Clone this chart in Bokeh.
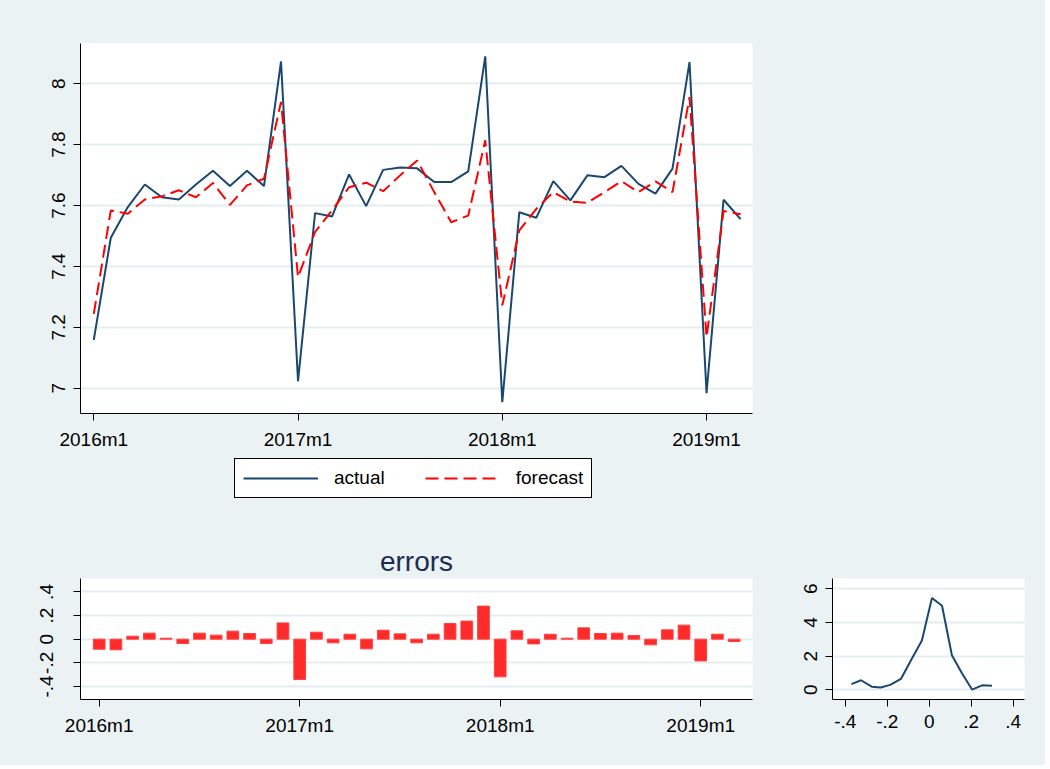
from bokeh.plotting import figure
from bokeh.layouts import column, row
from bokeh.models import FixedTicker, Legend, LegendItem, Range1d
from bokeh.embed import file_html
from bokeh.resources import INLINE

# ---------------- data ----------------
months = list(range(39))  # 2016m1 .. 2019m3
actual = [7.159, 7.494, 7.595, 7.669, 7.627, 7.620, 7.669, 7.714, 7.664, 7.714, 7.664, 8.073,
          7.023, 7.575, 7.564, 7.702, 7.598, 7.717, 7.725, 7.722, 7.677, 7.677, 7.712, 8.090,
          6.954, 7.578, 7.560, 7.680, 7.617, 7.699, 7.693, 7.730, 7.671, 7.639, 7.721, 8.071,
          6.984, 7.619, 7.555]
forecast = [7.244, 7.584, 7.573, 7.620, 7.630, 7.650, 7.627, 7.674, 7.602, 7.666, 7.688, 7.940,
            7.365, 7.513, 7.584, 7.660, 7.675, 7.647, 7.699, 7.748, 7.644, 7.545, 7.567, 7.814,
            7.272, 7.518, 7.589, 7.644, 7.613, 7.609, 7.644, 7.680, 7.644, 7.679, 7.644, 7.956,
            7.168, 7.582, 7.571]
errors = [-0.085, -0.090, 0.025, 0.051, 0.008, -0.037, 0.051, 0.034, 0.068, 0.048, -0.037, 0.138,
          -0.342, 0.059, -0.031, 0.042, -0.082, 0.076, 0.045, -0.031, 0.042, 0.133, 0.153, 0.280,
          -0.319, 0.071, -0.040, 0.042, 0.008, 0.096, 0.048, 0.051, 0.031, -0.048, 0.079, 0.119,
          -0.184, 0.042, -0.020]
tick_months = [0, 12, 24, 36]
tick_labels = ["2016m1", "2017m1", "2018m1", "2019m1"]

level_ticks = [7.0, 7.2, 7.4, 7.6, 7.8, 8.0]
level_labels = ["7", "7.2", "7.4", "7.6", "7.8", "8"]
err_ticks = [-0.4, -0.2, 0.0, 0.2, 0.4]
err_labels = ["-.4", "-.2", "0", ".2", ".4"]
dens_ticks_y = [0, 2, 4, 6]

dens_x = [-0.371, -0.325, -0.274, -0.231, -0.186, -0.135, -0.085, -0.035, 0.013, 0.061,
          0.108, 0.156, 0.204, 0.252, 0.299]
dens_y = [0.335, 0.565, 0.18, 0.137, 0.29, 0.64, 1.80, 2.92, 5.45, 4.99,
          2.05, 0.98, 0.01, 0.26, 0.24]

series_names = ["actual", "forecast"]

# ---------------- style ----------------
BG = "#eaf2f3"
GRID = "#e3edf0"
NAVY = "#1a476f"
RED = "#ff0000"
DASH = "13 6"
FONT = "Liberation Sans"
FS = "19px"


def style_axis(ax, standoff=8):
    ax.axis_line_color = "black"
    ax.axis_line_width = 1
    ax.major_tick_line_color = "black"
    ax.major_tick_out = 7
    ax.major_tick_in = 0
    ax.minor_tick_line_color = None
    ax.major_label_text_font = FONT
    ax.major_label_text_font_size = FS
    ax.major_label_text_color = "black"
    ax.major_label_standoff = standoff


def base_fig(**kw):
    p = figure(output_backend="svg", toolbar_location=None,
               background_fill_color="white", border_fill_color=BG,
               outline_line_color=None, **kw)
    p.xgrid.visible = False
    p.ygrid.grid_line_color = GRID
    p.ygrid.grid_line_width = 2
    return p


# ---------------- top: actual vs forecast ----------------
p1 = base_fig(width=1045, height=455,
              min_border_left=80, min_border_right=293, min_border_top=43, min_border_bottom=42,
              x_range=Range1d(-0.78, 38.70), y_range=Range1d(6.917, 8.132))
p1.line(months, actual, line_color=NAVY, line_width=2)
p1.line(months, forecast, line_color=RED, line_width=2, line_dash=DASH)
p1.xaxis.ticker = FixedTicker(ticks=tick_months)
p1.xaxis.major_label_overrides = {m: l for m, l in zip(tick_months, tick_labels)}
p1.yaxis.ticker = FixedTicker(ticks=level_ticks)
p1.yaxis.major_label_overrides = {t: l for t, l in zip(level_ticks, level_labels)}
p1.yaxis.major_label_orientation = "vertical"
style_axis(p1.xaxis[0])
style_axis(p1.yaxis[0])
p1.ygrid.ticker = FixedTicker(ticks=level_ticks)

# ---------------- legend strip (series drawn outside its visible range) ----------------
pl = figure(output_backend="svg", toolbar_location=None, width=1045, height=65,
            min_border_left=80, min_border_right=293, min_border_top=0, min_border_bottom=0,
            background_fill_color=BG, border_fill_color=BG, outline_line_color=None,
            x_range=Range1d(100, 101), y_range=Range1d(100, 101))
pl.axis.visible = False
pl.grid.visible = False
la = pl.line(months, actual, line_color=NAVY, line_width=2)
lf = pl.line(months, forecast, line_color=RED, line_width=2, line_dash=DASH)
legend = Legend(items=[LegendItem(label=series_names[0], renderers=[la]),
                       LegendItem(label=series_names[1], renderers=[lf])],
                orientation="horizontal", location=(154, 22),
                border_line_color="black", border_line_width=1, border_line_alpha=1,
                background_fill_color="white", background_fill_alpha=1,
                label_text_font=FONT, label_text_font_size=FS, label_text_color="black",
                glyph_width=75, glyph_height=20, label_standoff=16, spacing=40,
                padding=8, margin=0)
pl.add_layout(legend, "center")

# ---------------- bottom left: errors ----------------
p2 = base_fig(width=790, height=245,
              min_border_left=80, min_border_right=38, min_border_top=58, min_border_bottom=66,
              x_range=Range1d(-1.118, 39.10), y_range=Range1d(-0.511, 0.514),
              title="errors")
p2.vbar(x=months, top=errors, bottom=0, width=0.7,
        fill_color="#ff2b2b", line_color="#ff4040", line_width=1)
p2.xaxis.ticker = FixedTicker(ticks=tick_months)
p2.xaxis.major_label_overrides = {m: l for m, l in zip(tick_months, tick_labels)}
p2.yaxis.ticker = FixedTicker(ticks=err_ticks)
p2.yaxis.major_label_overrides = {t: l for t, l in zip(err_ticks, err_labels)}
p2.yaxis.major_label_orientation = "vertical"
style_axis(p2.xaxis[0])
style_axis(p2.yaxis[0], standoff=20)
p2.title.align = "center"
p2.title.text_font = FONT
p2.title.text_font_size = "28px"
p2.title.text_font_style = "normal"
p2.title.text_color = "#1c2b52"
p2.title.standoff = 4

# ---------------- bottom right: density ----------------
p3 = base_fig(width=255, height=245,
              min_border_left=42, min_border_right=21, min_border_top=22, min_border_bottom=66,
              x_range=Range1d(-0.461, 0.454), y_range=Range1d(-0.58, 6.61))
p3.line(dens_x, dens_y, line_color=NAVY, line_width=2)
p3.xaxis.ticker = FixedTicker(ticks=err_ticks)
p3.xaxis.major_label_overrides = {t: l for t, l in zip(err_ticks, err_labels)}
p3.yaxis.ticker = FixedTicker(ticks=dens_ticks_y)
p3.yaxis.major_label_orientation = "vertical"
style_axis(p3.xaxis[0])
style_axis(p3.yaxis[0])

layout = column(p1, pl, row(p2, p3, spacing=0, styles={"background-color": BG}),
                spacing=0, styles={"background-color": BG})
open("out.html", "w").write(file_html(layout, INLINE))
